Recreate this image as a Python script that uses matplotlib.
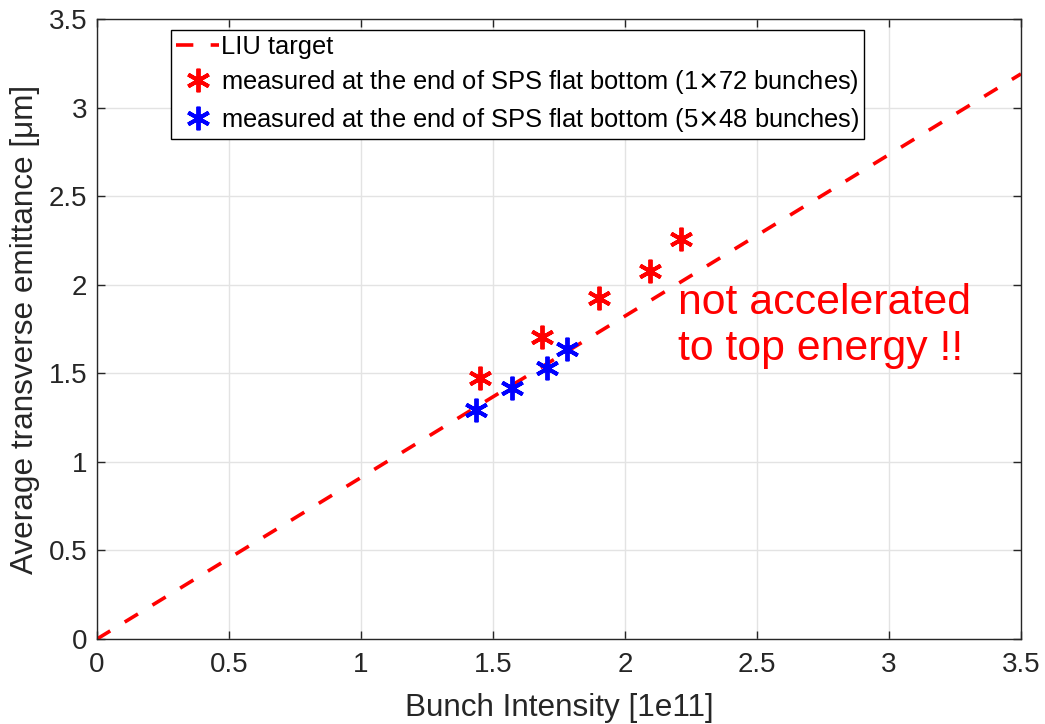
import numpy as np
import matplotlib.pyplot as plt
from matplotlib.lines import Line2D

plt.rcParams['font.family'] = ['Liberation Sans', 'DejaVu Sans']

# LIU target line (emittance vs intensity)
liu_x = [0.0, 3.5]
liu_y = [0.0, 3.19]

# 1x72 bunches, end of SPS flat bottom
red_x = [1.451, 1.687, 1.901, 2.095, 2.211]
red_y = [1.472, 1.703, 1.923, 2.079, 2.256]

# 5x48 bunches, end of SPS flat bottom
blue_x = [1.434, 1.573, 1.705, 1.779]
blue_y = [1.293, 1.419, 1.528, 1.637]

ticks = [0, 0.5, 1, 1.5, 2, 2.5, 3, 3.5]
tick_labels = ['0', '0.5', '1', '1.5', '2', '2.5', '3', '3.5']

asterisk = (6, 2, 0)
txt_col = '#262626'

fig = plt.figure(figsize=(10.45, 7.24), dpi=100)
ax = fig.add_axes([0.0928, 0.1174, 0.8842, 0.8564])

ax.plot(liu_x, liu_y, color='red', lw=2.6, dashes=(4.3, 4.7), label='LIU target')
ax.plot(red_x, red_y, ls='none', marker=asterisk, ms=17, mew=2.8, color='red',
        label='measured at the end of SPS flat bottom (1$\\times$72 bunches)')
ax.plot(blue_x, blue_y, ls='none', marker=asterisk, ms=17, mew=2.8, color='blue',
        label='measured at the end of SPS flat bottom (5$\\times$48 bunches)')

ax.text(2.2, 1.765, 'not accelerated\nto top energy !!', color='red', fontsize=30.8,
        va='center', ha='left', linespacing=1.2)

ax.set_xlim(0, 3.5)
ax.set_ylim(0, 3.5)
ax.set_xticks(ticks)
ax.set_xticklabels(tick_labels)
ax.set_yticks(ticks)
ax.set_yticklabels(tick_labels)
ax.tick_params(direction='in', top=True, right=True, length=6, width=1,
               labelsize=20, labelcolor=txt_col, color=txt_col)
ax.tick_params(axis='x', pad=9)
ax.tick_params(axis='y', pad=7)
ax.grid(True, color='#e3e3e3', lw=1)
ax.set_axisbelow(True)
for sp in ax.spines.values():
    sp.set_color(txt_col)
    sp.set_linewidth(1)

ax.set_xlabel('Bunch Intensity [1e11]', fontsize=22.7, color=txt_col, labelpad=11)
ax.set_ylabel('Average transverse emittance [μm]', fontsize=22.7, color=txt_col, labelpad=6)

handles = [
    Line2D([], [], color='red', lw=2.6, dashes=(4.8, 4.8)),
    Line2D([], [], ls='none', marker=asterisk, ms=17, mew=2.8, color='red'),
    Line2D([], [], ls='none', marker=asterisk, ms=17, mew=2.8, color='blue'),
]
labels = [h.get_label() for h in ax.get_lines()]
leg = ax.legend(handles, labels, loc='upper left', bbox_to_anchor=(0.08, 0.982),
                fontsize=18.4, frameon=True, fancybox=False, edgecolor='black',
                framealpha=1, handlelength=1.7, handletextpad=0.05, borderpad=0.2,
                labelspacing=0.36, borderaxespad=0)
leg.get_frame().set_linewidth(1)

fig.savefig('out.png', dpi=100)
